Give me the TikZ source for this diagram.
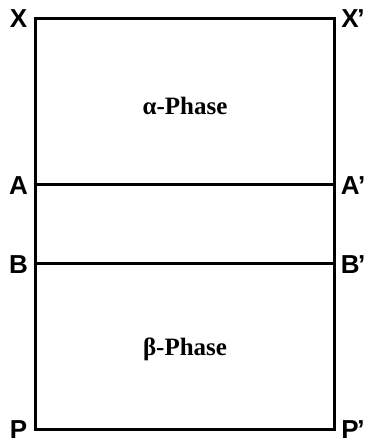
\documentclass[tikz,border=0pt]{standalone}
\usepackage{fontspec}
\setmainfont{Liberation Serif}
\newfontfamily\lblfont{Liberation Sans}
\begin{document}
\begin{tikzpicture}[x=1pt,y=-1pt,
  edge/.style={line width=3pt},
  lbl/.style={font=\lblfont\bfseries\fontsize{26}{28}\selectfont, inner sep=0pt},
  phase/.style={font=\bfseries\fontsize{25}{27}\selectfont, inner sep=0pt}]
\useasboundingbox (0,0) rectangle (367,443);
\coordinate (X) at (35,19);
\coordinate (Xp) at (334.5,19);
\coordinate (P) at (35,429);
\coordinate (Pp) at (334.5,429);
\coordinate (A) at (35,184.5);
\coordinate (Ap) at (334.5,184.5);
\coordinate (B) at (35,263.5);
\coordinate (Bp) at (334.5,263.5);
\draw[edge, line join=miter] (X) -- (Xp) -- (Pp) -- (P) -- cycle;
\draw[edge] (A) -- (Ap);
\draw[edge] (B) -- (Bp);
\node[lbl] (lx) at (18.5,19) {X};
\node[lbl] (lxp) at (353,19) {X\kern-1.5pt’};
\node[lbl] (la) at (18.5,186) {A};
\node[lbl] (lap) at (353,186) {A\kern-1.5pt’};
\node[lbl] (lb) at (18.5,265) {B};
\node[lbl] (lbp) at (353,265) {B\kern-1.5pt’};
\node[lbl] (lp) at (18.5,430) {P};
\node[lbl] (lpp) at (353,430) {P\kern-1.5pt’};
\node[phase] (alpha) at (185,106) {α-Phase};
\node[phase] (beta) at (185,349) {β-Phase};
\end{tikzpicture}
\end{document}
